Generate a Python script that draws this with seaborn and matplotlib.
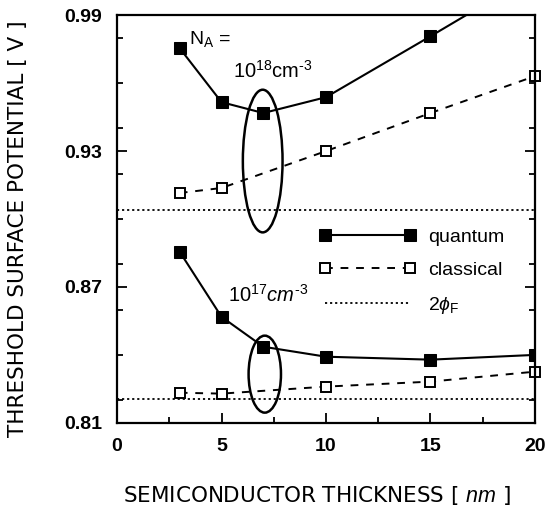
import numpy as np
import pandas as pd
import matplotlib
matplotlib.use("Agg")
import matplotlib.pyplot as plt
from matplotlib.patches import Ellipse
from matplotlib.ticker import MultipleLocator, FixedLocator, FormatStrFormatter
import seaborn as sns

# Semiconductor thickness (nm)
thickness = [3, 5, 7, 10, 15, 20]

# Threshold surface potential (V), N_A = 1e18 cm^-3
quantum_18 = [0.9754, 0.9516, 0.9468, 0.9538, 0.9807, 1.008]
classical_18 = [0.9115, 0.9137, None, 0.9300, 0.9468, 0.9631]
two_phi_18 = 0.9040

# Threshold surface potential (V), N_A = 1e17 cm^-3
quantum_17 = [0.8855, 0.8568, 0.8436, 0.8392, 0.8379, 0.8400]
classical_17 = [0.8233, 0.8229, None, 0.8260, 0.8282, 0.8326]
two_phi_17 = 0.8207

y_ticks = [0.81, 0.87, 0.93, 0.99]
x_ticks = [0, 5, 10, 15, 20]

rows = []
for dop, q, c in (("1e18", quantum_18, classical_18), ("1e17", quantum_17, classical_17)):
    for t, v in zip(thickness, q):
        rows.append({"thickness": t, "potential": v, "model": "quantum", "doping": dop})
    for t, v in zip(thickness, c):
        if v is not None:
            rows.append({"thickness": t, "potential": v, "model": "classical", "doping": dop})
df = pd.DataFrame(rows)

sns.set_theme(style="ticks")
plt.rcParams["font.family"] = ["Liberation Sans", "DejaVu Sans"]
plt.rcParams["mathtext.fontset"] = "custom"
plt.rcParams["mathtext.rm"] = "Liberation Sans"
plt.rcParams["mathtext.it"] = "Liberation Sans:italic"
for key in ("text.color", "axes.labelcolor", "xtick.color", "ytick.color", "axes.edgecolor"):
    plt.rcParams[key] = "black"

fig = plt.figure(figsize=(5.47, 5.07), dpi=100)
ax = fig.add_axes([0.214, 0.166, 0.764, 0.804])

for i, dop in enumerate(["1e18", "1e17"]):
    sub_q = df[(df.model == "quantum") & (df.doping == dop)]
    sub_c = df[(df.model == "classical") & (df.doping == dop)]
    sns.lineplot(data=sub_q, x="thickness", y="potential", ax=ax, color="black",
                 lw=1.5, marker="s", markersize=8, markerfacecolor="black",
                 markeredgecolor="black", label="quantum" if i == 0 else None,
                 clip_on=True)
    sns.lineplot(data=sub_c, x="thickness", y="potential", ax=ax, color="black",
                 lw=1.4, linestyle=(0, (4, 4)), marker="s", markersize=7,
                 markerfacecolor="white", markeredgecolor="black", markeredgewidth=1.4,
                 label="classical" if i == 0 else None, clip_on=False)

ax.axhline(two_phi_18, color="black", lw=1.3, linestyle=(0, (1.2, 1.6)), label=r"2$\phi_{\rm F}$")
ax.axhline(two_phi_17, color="black", lw=1.3, linestyle=(0, (1.2, 1.6)))

# Ellipses grouping the 7 nm points
ax.add_patch(Ellipse((6.97, 0.9256), 1.9, 0.063, fill=False, lw=1.8, ec="black"))
ax.add_patch(Ellipse((7.07, 0.8315), 1.55, 0.034, fill=False, lw=1.8, ec="black"))

# Doping annotations
ax.text(3.45, 0.9775, r"N$_{\rm A}$ =", fontsize=14)
ax.text(5.55, 0.9625, r"10$^{18}$cm$^{\text{-3}}$", fontsize=14.5)
ax.text(5.3, 0.8635, r"10$^{17}$$\mathit{cm}^{\text{-3}}$", fontsize=14.5)

ax.set_xlim(0, 20)
ax.set_ylim(0.81, 0.99)
ax.xaxis.set_major_locator(FixedLocator(x_ticks))
ax.xaxis.set_minor_locator(MultipleLocator(2.5))
ax.yaxis.set_major_locator(FixedLocator(y_ticks))
ax.yaxis.set_minor_locator(MultipleLocator(0.02))
ax.yaxis.set_major_formatter(FormatStrFormatter("%.2f"))
ax.tick_params(which="both", direction="in", right=True, top=False, width=1.3, color="black")
ax.tick_params(which="major", length=7, labelsize=14, pad=11, labelcolor="black")
ax.tick_params(which="minor", length=4)
for lbl in ax.get_xticklabels() + ax.get_yticklabels():
    lbl.set_fontweight("bold")
for s in ax.spines.values():
    s.set_linewidth(1.6)
    s.set_edgecolor("black")
    s.set_visible(True)

ax.set_xlabel(r"SEMICONDUCTOR THICKNESS [ $\mathit{nm}$ ]", fontsize=15.5,
              family="DejaVu Sans", color="black")
ax.set_ylabel("THRESHOLD SURFACE POTENTIAL [ V ]", fontsize=15.5,
              family="DejaVu Sans", color="black")
ax.xaxis.set_label_coords(0.478, -0.15)
ax.yaxis.set_label_coords(-0.212, 0.477)

leg = ax.legend(loc="upper left", bbox_to_anchor=(0.441, 0.52), frameon=False,
                numpoints=2, handlelength=5.0, fontsize=14, labelspacing=0.8,
                handletextpad=0.6, labelcolor="black")

fig.savefig("out.png", dpi=100)
